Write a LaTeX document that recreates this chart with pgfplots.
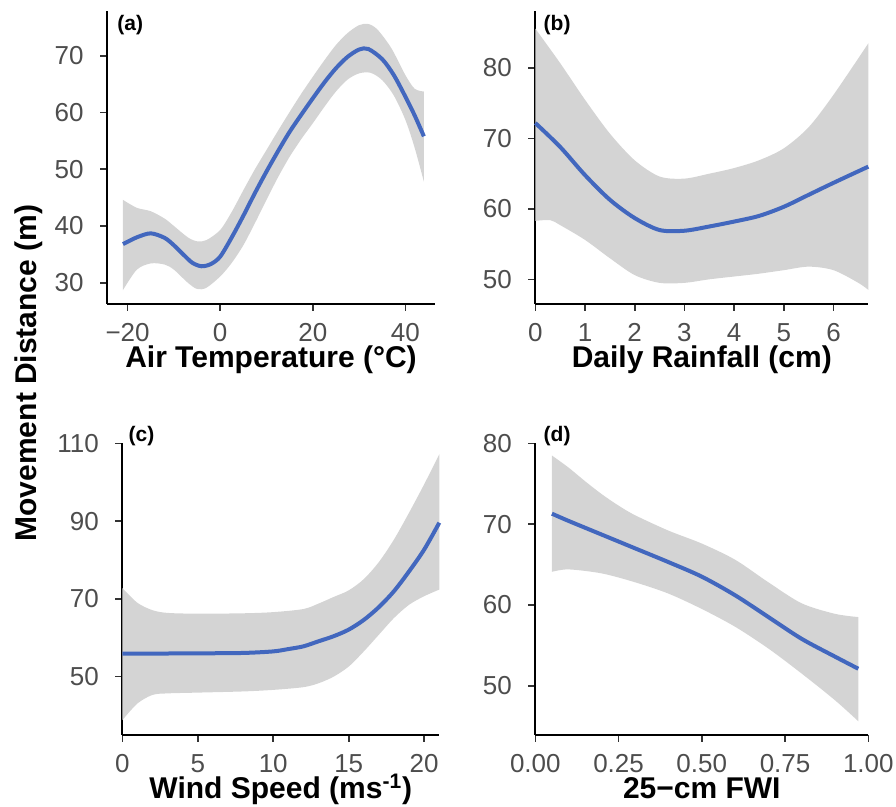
\documentclass[border=0pt]{standalone}
\usepackage{fontspec}
\setmainfont{Liberation Sans}
\usepackage{pgfplots}
\pgfplotsset{compat=1.18}
\usepgfplotslibrary{fillbetween}
\definecolor{fitblue}{RGB}{66,103,190}
\definecolor{bandgray}{RGB}{212,212,212}
\definecolor{ticktext}{RGB}{77,77,77}
\definecolor{tickgray}{RGB}{51,51,51}

\pgfplotsset{
  panel/.style={
    scale only axis,
    anchor=south west,
    axis lines=left,
    axis line style={-, line width=1pt, black},
    tick align=outside,
    major tick length=3.5pt,
    every tick/.style={tickgray, line width=0.8pt},
    tick label style={font=\fontsize{13}{15}\selectfont, text=ticktext, inner sep=0pt},
    xticklabel style={anchor=base, yshift=-15.5pt},
    yticklabel style={anchor=east, xshift=-8pt},
    /pgf/number format/assume math mode=true,
    every axis x label/.style={at={(axis description cs:0.5,0)}, anchor=base,
      inner sep=0pt, yshift=-32pt, font=\fontsize{15}{18}\selectfont\bfseries},
    clip=false,
  },
  fitline/.style={fitblue, line width=2pt, smooth},
  bound/.style={draw=none, smooth},
}
\tikzset{tag/.style={anchor=west, inner sep=0pt, font=\fontsize{10.5}{12}\selectfont\bfseries}}

\begin{document}
\begin{tikzpicture}
\path (0pt,0pt) rectangle (448pt,403.5pt);

\node[rotate=90, font=\fontsize{15}{18}\selectfont\bfseries] at (14.5pt,217pt)
  {Movement Distance (m)};

% (a) air temperature
\begin{axis}[panel, at={(53.5pt,251.5pt)}, width=164pt, height=146.5pt,
  xmin=-24.45, xmax=46.4, ymin=26.25, ymax=77.9,
  xtick={-20,0,20,40}, xticklabels={−20,0,20,40},
  ytick={30,40,50,60,70},
  xlabel={Air Temperature (°C)}]
\addplot[bound, name path=up] coordinates {
  (-21,44.6) (-18,43.2) (-15,42.6) (-12,41.3) (-10,40.0) (-7,38.0) (-5,37.3)
  (-3,37.5) (0,39.3) (2.5,42.5) (5,46.3) (7.5,50) (10,53.4) (12.5,56.8)
  (15,60.1) (17.5,63.3) (20,66.3) (22.5,69.2) (25,71.9) (27.5,74.0) (30,75.4)
  (32,75.6) (34,74.6) (37,71.3) (40,66.6) (42,64.2) (44,63.7)};
\addplot[bound, name path=lo] coordinates {
  (-21,28.7) (-18,32.3) (-15,33.4) (-12,33.2) (-10,32.3) (-7,30.0) (-5,28.9)
  (-3,29.1) (0,31.1) (2.5,33.5) (5,36.6) (7.5,40.5) (10,44.6) (12.5,48.6)
  (15,52.2) (17.5,55.3) (20,58.1) (22.5,61) (25,63.7) (27.5,65.8) (30,66.9)
  (32.5,67) (35,65.7) (37.5,63) (40,58.7) (42,53.8) (44,47.8)};
\addplot[fill=bandgray, draw=none] fill between[of=up and lo];
\addplot[fitline] coordinates {
  (-21,36.8) (-18,38.0) (-15,38.7) (-12,37.9) (-10,36.6) (-8,35.0) (-6,33.5)
  (-4,32.9) (-2,33.3) (0,34.6) (2.5,38) (5,41.8) (7.5,45.8) (10,49.6) (12.5,53.2)
  (15,56.6) (17.5,59.6) (20,62.5) (22.5,65.3) (25,67.8) (27.5,69.8) (30,71.1)
  (32,71.2) (35,69.4) (37.5,66.6) (40,62.8) (42,59.5) (44,55.8)};
\node[tag] at ([xshift=5pt,yshift=-7pt]rel axis cs:0,1) {(a)};
\end{axis}

% (b) daily rainfall
\begin{axis}[panel, at={(267.65pt,251.5pt)}, width=166.5pt, height=146.5pt,
  xmin=0, xmax=6.7, ymin=46.5, ymax=88.1,
  xtick={0,1,2,3,4,5,6}, ytick={50,60,70,80},
  xlabel={Daily Rainfall (cm)}]
\addplot[bound, name path=up] coordinates {
  (0,85.6) (0.5,80.7) (1,75.5) (1.5,70.7) (2,66.9) (2.5,64.6) (3,64.3)
  (3.5,65.0) (4,65.8) (4.5,66.9) (5,68.6) (5.5,71.6) (6,76.2) (6.7,83.5)};
\addplot[bound, name path=lo] coordinates {
  (0,58.3) (0.3,58.4) (0.5,57.7) (1,55.6) (1.5,53.0) (2,50.6) (2.5,49.5)
  (3,49.5) (3.5,50.0) (4,50.4) (4.5,50.8) (5,51.3) (5.5,51.8) (6,51.3)
  (6.5,49.5) (6.7,48.5)};
\addplot[fill=bandgray, draw=none] fill between[of=up and lo];
\addplot[fitline] coordinates {
  (0,72.2) (0.5,68.8) (1,64.8) (1.5,61.3) (2,58.7) (2.5,57.0) (3,56.9)
  (3.5,57.5) (4,58.2) (4.5,59.0) (5,60.3) (5.5,62.0) (6,63.7) (6.7,66.0)};
\node[tag] at ([xshift=4pt,yshift=-7.25pt]rel axis cs:0,1) {(b)};
\end{axis}

% (c) wind speed
\begin{axis}[panel, at={(61.15pt,36pt)}, width=158.5pt, height=145.8pt,
  xmin=0, xmax=21, ymin=35, ymax=110,
  xtick={0,5,10,15,20}, ytick={50,70,90,110},
  xlabel={Wind Speed (ms\textsuperscript{-1})}]
\addplot[bound, name path=up] coordinates {
  (0,72.8) (1,69.0) (2,67.1) (3,66.4) (5,66.2) (8,66.3) (10,66.6) (12,67.4)
  (13,68.8) (14,70.5) (15,72.2) (16,75.1) (17,79.5) (18,85.3) (19,92.2)
  (20,99.5) (21,107.2)};
\addplot[bound, name path=lo] coordinates {
  (0,38.8) (1,43.1) (2,45.3) (3,45.7) (5,45.9) (8,46.2) (10,46.6) (12,47.3)
  (13,48.3) (14,50.0) (15,52.6) (16,56.5) (17,60.8) (18,65.1) (19,68.5)
  (20,70.7) (21,72.4)};
\addplot[fill=bandgray, draw=none] fill between[of=up and lo];
\addplot[fitline] coordinates {
  (0,55.9) (5,56.0) (8,56.1) (10,56.5) (11,57.1) (12,57.8) (13,59.1)
  (14,60.4) (15,62.1) (16,64.6) (17,67.9) (18,72.0) (19,77.1) (20,82.7)
  (21,89.6)};
\node[tag] at ([xshift=3pt,yshift=3.7pt]rel axis cs:0,1) {(c)};
\end{axis}

% (d) FWI
\begin{axis}[panel, at={(267.65pt,36pt)}, width=166.5pt, height=145.8pt,
  xmin=0, xmax=1.0, ymin=43.9, ymax=80,
  xtick={0,0.25,0.5,0.75,1}, xticklabels={0.00,0.25,0.50,0.75,1.00},
  ytick={50,60,70,80},
  xlabel={25−cm FWI}]
\addplot[bound, name path=up] coordinates {
  (0.05,78.5) (0.1,77.0) (0.15,75.3) (0.2,73.7) (0.25,72.3) (0.3,71.1)
  (0.4,69.2) (0.5,67.6) (0.6,65.6) (0.7,62.8) (0.8,60.2) (0.9,58.9)
  (0.97,58.5)};
\addplot[bound, name path=lo] coordinates {
  (0.05,64.1) (0.1,64.4) (0.2,63.9) (0.3,62.8) (0.4,61.4) (0.5,59.5)
  (0.6,57.3) (0.7,54.6) (0.8,51.5) (0.9,48.2) (0.97,45.6)};
\addplot[fill=bandgray, draw=none] fill between[of=up and lo];
\addplot[fitline] coordinates {
  (0.05,71.3) (0.1,70.4) (0.2,68.7) (0.3,67.0) (0.4,65.3) (0.5,63.5)
  (0.6,61.2) (0.7,58.5) (0.8,55.8) (0.9,53.6) (0.97,52.1)};
\node[tag] at ([xshift=4pt,yshift=3.7pt]rel axis cs:0,1) {(d)};
\end{axis}
\end{tikzpicture}
\end{document}
